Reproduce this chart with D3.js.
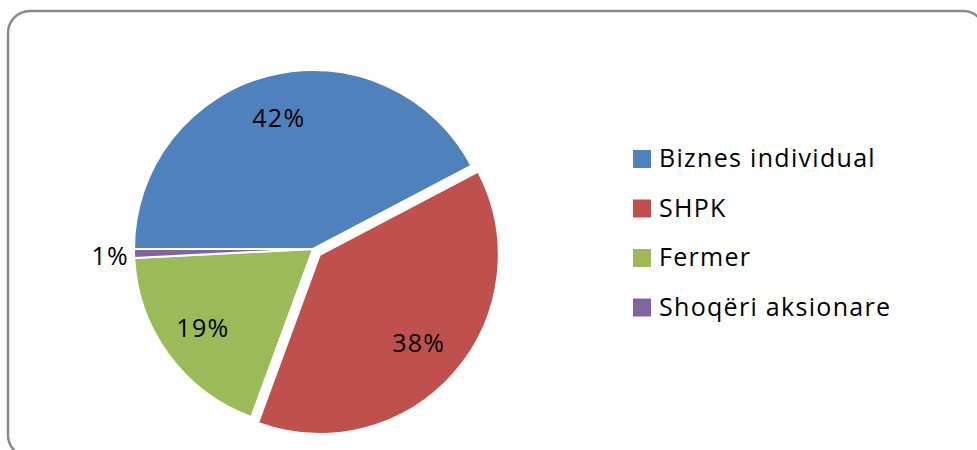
<!DOCTYPE html>
<html>
<head>
<meta charset="utf-8">
<title>Pie</title>
<script src="https://d3js.org/d3.v7.min.js"></script>
<style>
  body { margin: 0; background: #fff; }
  text { font-family: "Open Sans", Lato, sans-serif; fill: #000; letter-spacing: 1.3px; }
</style>
</head>
<body>
<svg width="977" height="450"></svg>
<script>
var categories = ["Biznes individual", "SHPK", "Fermer", "Shoqëri aksionare"]
var values = [42.3, 38.3, 18.6, 0.8]
var colors = ["#4F81BD", "#C0504D", "#9BBB59", "#8064A2"]

var svg = d3.select("svg")
var pct = d3.format(".0%")

// chart frame
svg.append("rect")
  .attr("x", 8).attr("y", 11)
  .attr("width", 977).attr("height", 446)
  .attr("rx", 22)
  .attr("fill", "#fff")
  .attr("stroke", "#8a8a8a")
  .attr("stroke-width", 2.5)

var cx = 313, cy = 249, r = 179
var explode = 9   // only SHPK is pulled out
var total = d3.sum(values)

var pie = d3.pie().sort(null)
  .startAngle(-Math.PI / 2)
  .endAngle(Math.PI * 1.5)
var arcs = pie(values)

var arc = d3.arc().innerRadius(0).outerRadius(r)
var labelArc = d3.arc().innerRadius(r * 0.75).outerRadius(r * 0.75)

var g = svg.append("g").attr("transform", "translate(" + cx + "," + cy + ")")

function offset(d, i) {
  if (i != 1) return [0, 0]
  var a = (d.startAngle + d.endAngle) / 2
  return [Math.sin(a) * explode, -Math.cos(a) * explode]
}

g.selectAll(".slice")
  .data(arcs)
  .enter().append("path")
  .attr("class", "slice")
  .attr("d", arc)
  .attr("transform", function(d, i) { return "translate(" + offset(d, i) + ")"; })
  .attr("fill", function(d, i) { return colors[i]; })
  .attr("stroke", "#fff")
  .attr("stroke-width", 2)

// percentage labels, the tiny slice gets its label outside
g.selectAll(".lbl")
  .data(arcs)
  .enter().append("text")
  .attr("class", "lbl")
  .attr("font-size", 25)
  .attr("text-anchor", function(d, i) { return i == 3 ? "end" : "middle"; })
  .attr("dy", "0.35em")
  .attr("transform", function(d, i) {
    var o = offset(d, i)
    if (i == 3) {
      var a = (d.startAngle + d.endAngle) / 2
      return "translate(" + (Math.sin(a) * (r + 5)) + "," + (-Math.cos(a) * (r + 5) + 3) + ")"
    }
    var c = labelArc.centroid(d)
    return "translate(" + (c[0] + o[0] - 2) + "," + (c[1] + o[1]) + ")"
  })
  .text(function(d) { return pct(d.value / total); })

// legend
var legend = svg.append("g").attr("transform", "translate(633,167)")
var item = legend.selectAll(".item")
  .data(categories)
  .enter().append("g")
  .attr("class", "item")
  .attr("transform", function(d, i) { return "translate(0," + (i * 49.5) + ")"; })

item.append("rect")
  .attr("x", 0).attr("y", -17)
  .attr("width", 18).attr("height", 18)
  .attr("fill", function(d, i) { return colors[i]; })

item.append("text")
  .attr("x", 26).attr("y", 0)
  .attr("font-size", 25)
  .text(function(d) { return d; })
</script>
</body>
</html>
